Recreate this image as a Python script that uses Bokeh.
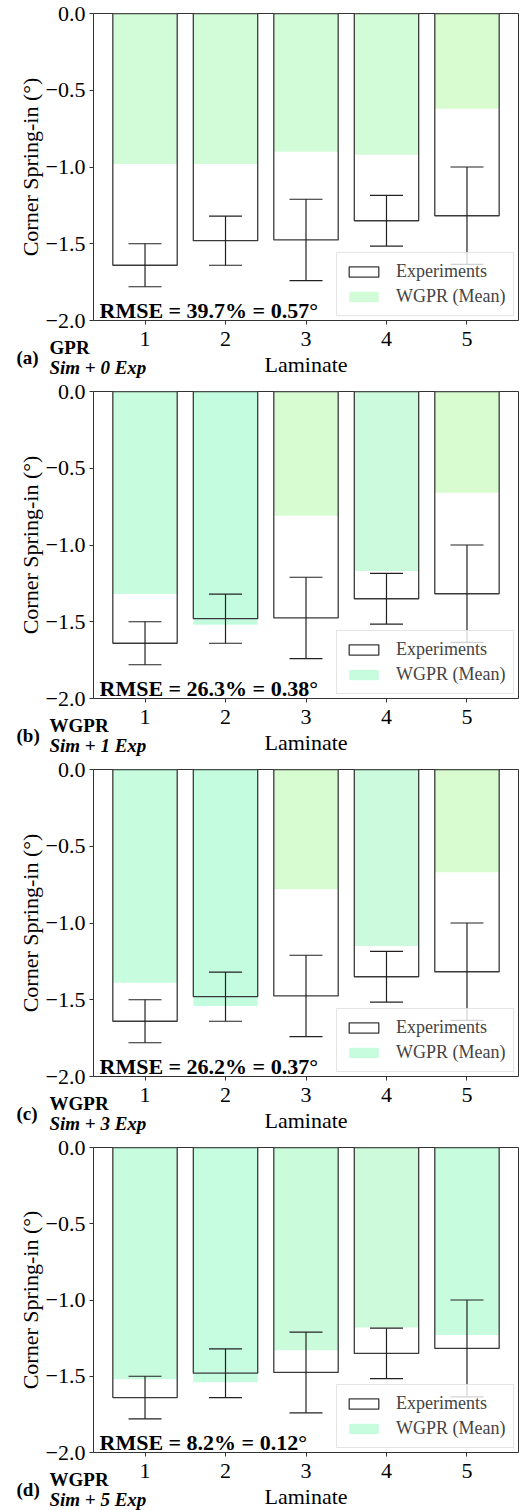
from bokeh.plotting import figure
from bokeh.models import (ColumnDataSource, Range1d, FixedTicker, CustomJSTickFormatter,
                          Whisker, TeeHead, Legend, LegendItem, Label, Title)
from bokeh.layouts import column
from bokeh.embed import file_html
from bokeh.resources import INLINE

# ---------------- data ----------------
laminates = [1, 2, 3, 4, 5]
exp_mean = [-1.64, -1.48, -1.475, -1.35, -1.3175]
exp_err = [0.14, 0.16, 0.265, 0.165, 0.3175]

wgpr_a = [-0.98, -0.98, -0.90, -0.92, -0.62]
wgpr_b = [-1.32, -1.52, -0.81, -1.17, -0.66]
wgpr_c = [-1.39, -1.54, -0.78, -1.15, -0.67]
wgpr_d = [-1.52, -1.54, -1.33, -1.18, -1.23]

colors_a = ["#d2fcd8", "#d2fcd8", "#d2fcd8", "#d2fcd8", "#d8fcd0"]
colors_b = ["#c8fcde", "#c4fce0", "#d8fcd2", "#ccfadc", "#d8fcd0"]
colors_c = ["#c8fcde", "#c4fce0", "#d8fcd2", "#ccfadc", "#d8fcd0"]
colors_d = ["#c8fcde", "#c6fce0", "#cafcdc", "#ccfada", "#c8fcde"]

panel_tags = ["(a)", "(b)", "(c)", "(d)"]
panel_models = ["GPR", "WGPR", "WGPR", "WGPR"]
panel_sets = ["Sim + 0 Exp", "Sim + 1 Exp", "Sim + 3 Exp", "Sim + 5 Exp"]
rmse_texts = ["RMSE = 39.7% = 0.57°", "RMSE = 26.3% = 0.38°",
              "RMSE = 26.2% = 0.37°", "RMSE = 8.2% = 0.12°"]

y_ticks = [-2.0, -1.5, -1.0, -0.5, 0.0]
x_label = "Laminate"
y_label = "Corner Spring-in (°)"

FONT = "Liberation Serif"
X0, X1 = 0.36, 5.64
Y0, Y1 = -2.0, 0.0


def make_panel(wgpr, colors, tag, model, setname, rmse, height, frame_h):
    px_x = 425 / (X1 - X0)
    px_y = frame_h / (Y1 - Y0)
    lower = [m - e for m, e in zip(exp_mean, exp_err)]
    upper = [m + e for m, e in zip(exp_mean, exp_err)]
    src = ColumnDataSource(dict(x=laminates, exp=exp_mean, lower=lower, upper=upper,
                                wgpr=wgpr, color=colors))
    p = figure(width=527, height=height, output_backend="svg", toolbar_location=None,
               x_range=Range1d(X0, X1), y_range=Range1d(Y0, Y1),
               min_border_left=93, min_border_right=9, min_border_top=13,
               min_border_bottom=height - 13 - frame_h)
    p.background_fill_color = "white"
    p.border_fill_color = "white"
    p.grid.visible = False
    p.outline_line_color = "#333333"
    p.outline_line_width = 1

    g = p.vbar(x="x", top=0, bottom="wgpr", width=0.8, source=src,
               fill_color="color", line_color=None)
    e = p.vbar(x="x", top=0, bottom="exp", width=0.8, source=src,
               fill_alpha=0, line_color="#3a3a3a", line_width=1.3)

    w = Whisker(source=src, base="x", lower="lower", upper="upper",
                line_color="#222222", line_width=1.2, level="annotation",
                upper_head=TeeHead(size=33, line_color="#222222", line_width=1.2),
                lower_head=TeeHead(size=33, line_color="#222222", line_width=1.2))
    p.add_layout(w)

    p.add_layout(Label(x=X0 + 6 / px_x, y=Y0 + 10 / px_y, text=rmse,
                       text_font=FONT, text_font_size="22px", text_font_style="bold",
                       text_baseline="middle", text_align="left", text_color="black"))

    legend = Legend(items=[LegendItem(label="Experiments", renderers=[e]),
                           LegendItem(label="WGPR (Mean)", renderers=[g])],
                    location=(243, 4), glyph_width=37, glyph_height=13,
                    label_standoff=14, padding=8, spacing=4, margin=0,
                    label_text_font=FONT, label_text_font_size="18px",
                    background_fill_color="white", background_fill_alpha=0.8,
                    border_line_color="#cccccc", border_line_width=1)
    p.add_layout(legend, "center")

    # axes
    for ax in (p.xaxis, p.yaxis):
        ax.axis_line_color = None
        ax.major_tick_line_color = "#333333"
        ax.major_tick_out = 4
        ax.major_tick_in = 0
        ax.minor_tick_line_color = None
        ax.major_label_text_font = FONT
        ax.major_label_text_font_size = "22px"
        ax.major_label_text_color = "black"
        ax.axis_label_text_font = FONT
        ax.axis_label_text_font_size = "22px"
        ax.axis_label_text_font_style = "normal"
        ax.axis_label_text_color = "black"
    p.xaxis.ticker = FixedTicker(ticks=laminates)
    p.xaxis.major_label_standoff = 7
    p.yaxis.ticker = FixedTicker(ticks=y_ticks)
    p.yaxis.formatter = CustomJSTickFormatter(
        code='return (tick < 0 ? "\\u2212" : "") + Math.abs(tick).toFixed(1);')
    p.yaxis.major_label_standoff = 4
    p.yaxis.axis_label = y_label
    p.yaxis.axis_label_standoff = 0

    # texts below the frame, stacked after the tick labels
    h19 = 21
    h22 = 24
    p.add_layout(Title(text=model, align="left", offset=-44, vertical_align="top",
                       standoff=-(2 + h19), text_font=FONT, text_font_size="19px",
                       text_font_style="bold", text_color="black"), "below")
    p.add_layout(Title(text=tag, align="left", offset=-77, vertical_align="bottom",
                       standoff=16 - 2 - h19, text_font=FONT, text_font_size="19px",
                       text_font_style="bold", text_color="black"), "below")
    p.add_layout(Title(text=x_label, align="center", vertical_align="top",
                       standoff=-(2 + h22), text_font=FONT, text_font_size="22px",
                       text_font_style="normal", text_color="black"), "below")
    p.add_layout(Title(text=setname, align="left", offset=-44, vertical_align="top",
                       standoff=6 - 2 - h19, text_font=FONT, text_font_size="19px",
                       text_font_style="bold italic", text_color="black"), "below")
    return p


heights = [378, 378, 378, 376]
frame_hs = [307, 307, 307, 305]
wgprs = [wgpr_a, wgpr_b, wgpr_c, wgpr_d]
cols = [colors_a, colors_b, colors_c, colors_d]
panels = [make_panel(wgprs[i], cols[i], panel_tags[i], panel_models[i], panel_sets[i],
                     rmse_texts[i], heights[i], frame_hs[i]) for i in range(4)]

layout = column(*panels, spacing=0)
open("out.html", "w").write(file_html(layout, INLINE))
